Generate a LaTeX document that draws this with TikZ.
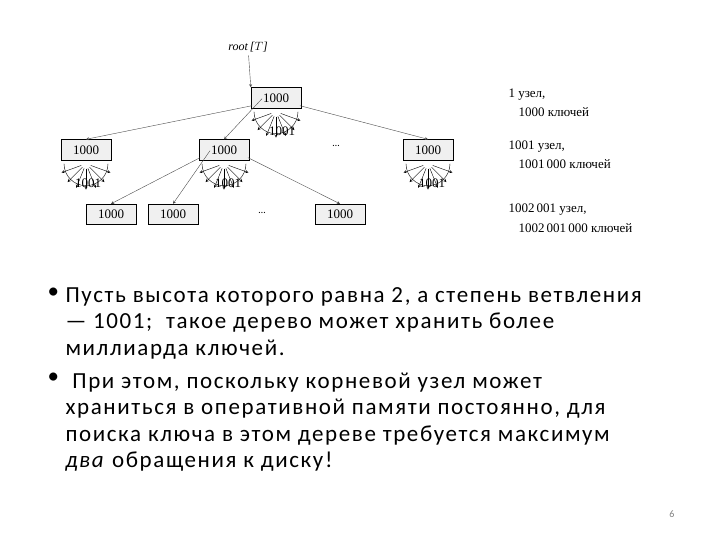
\documentclass[tikz,border=0pt]{standalone}
\usepackage{fontspec}
\setmainfont{Carlito}[LetterSpace=7]
\newfontfamily\treefont{Liberation Serif}
\usetikzlibrary{positioning,calc}

\tikzset{
  keybox/.style={draw,rectangle,fill=gray!12,minimum width=50pt,minimum height=21pt,inner sep=0pt,font=\treefont\fontsize{13}{13}\selectfont},
  ptr/.style={->,>=stealth,gray!60!black},
  fanlab/.style={font=\treefont\fontsize{13}{13}\selectfont},
  note/.style={anchor=west,font=\treefont\fontsize{13}{13}\selectfont},
  bullet/.style={anchor=north west,align=left,font=\fontsize{23}{26.5}\selectfont},
}

\begin{document}
\begin{tikzpicture}[x=1pt,y=-1pt]
\useasboundingbox (0,0) rectangle (720,540);

\node[font=\treefont\itshape\fontsize{12}{12}\selectfont] (lab) at (248,47) {root\,[$T$]};
\node[keybox] (R) at (276,98) {1000};
\node[keybox] (A) at (86,150) {1000};
\node[keybox] (B) at (224,150) {1000};
\node[keybox] (C) at (428,150) {1000};
\node[keybox,minimum height=20pt] (D) at (111,214) {1000};
\node[keybox,minimum height=20pt] (E) at (173,214) {1000};
\node[keybox,minimum height=20pt] (F) at (340,214) {1000};
\node (dots1) at (336,146) {\dots};
\node (dots2) at (262,213) {\dots};

\foreach \n in {R,A,B,C} {
  \draw ($(\n.south)+(-22pt,-3pt)$) arc[start angle=180,end angle=360,radius=22pt];
  \foreach \a in {200,225,248,270,292,315,340}
    \draw[->,>=stealth] ($(\n.south)+(0,-3pt)$) ++(\a:5pt) -- ++(\a:21pt);
}
\node[fanlab] (lR) at (282,131) {1001};
\node[fanlab] (lA) at (88,183) {1001};
\node[fanlab] (lB) at (228,183) {1001};
\node[fanlab] (lC) at (432,183) {1001};

\draw[ptr] (lab) -- (R.north west);
\draw[ptr] ($(R.south)+(-24pt,3pt)$) -- (A.north);
\draw[ptr] ($(R.south)+(-14pt,10pt)$) -- (B.north);
\draw[ptr] ($(R.south)+(24pt,3pt)$) -- (C.north);
\draw[ptr] ($(B.south)+(-24pt,3pt)$) -- (D.north);
\draw[ptr] ($(B.south)+(-14pt,10pt)$) -- (E.north);
\draw[ptr] ($(B.south)+(24pt,3pt)$) -- (F.north);

\node[note] (n1) at (505,95) {1 узел,};
\node[note] (n2) at (515,112) {1000 ключей};
\node[note] (n3) at (505,147) {1001 узел,};
\node[note] (n4) at (515,164) {1001\,000 ключей};
\node[note] (n5) at (505,210) {1002\,001 узел,};
\node[note] (n6) at (515,228) {1002\,001\,000 ключей};

\node[bullet] (b1) at (44,284) {•};
\node[bullet] (t1) at (62,284) {Пусть высота которого равна 2, а степень ветвления\\
— 1001;\ \ такое дерево может хранить более\\ миллиарда ключей.};
\node[bullet] (b2) at (44,369) {•};
\node[bullet] (t2) at (62,369) {\ При этом, поскольку корневой узел может\\
храниться в оперативной памяти постоянно, для\\
поиска ключа в этом дереве требуется максимум\\
\textit{два} обращения к диску!};
\node[font=\fontsize{10}{10}\selectfont,text=gray] (pg) at (672,514) {6};
\end{tikzpicture}
\end{document}
